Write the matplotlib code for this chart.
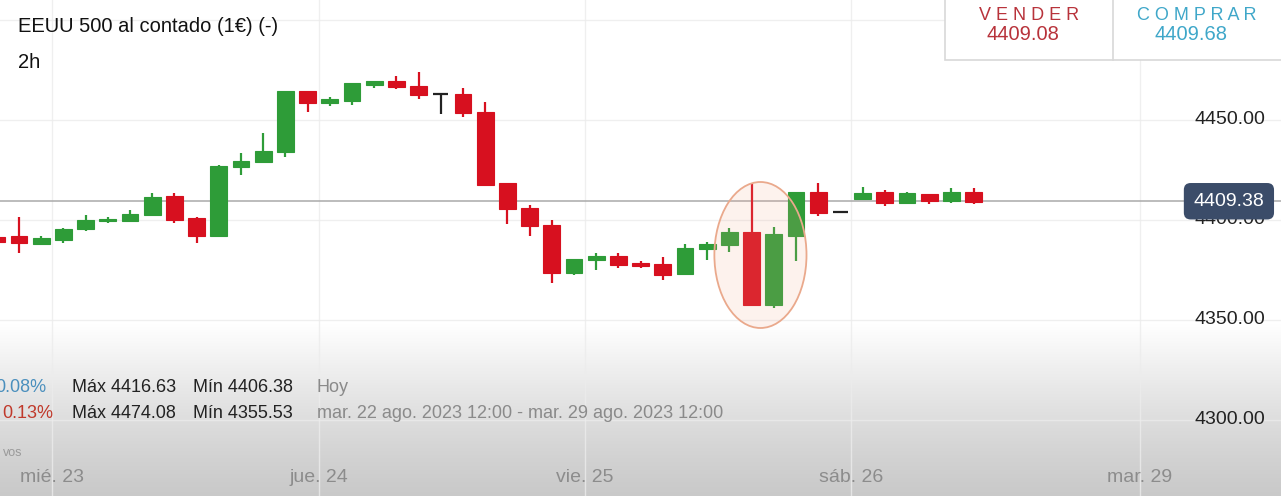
"""
EEUU 500 al contado - gráfico de velas de 2h
"""
import numpy as np
import matplotlib.pyplot as plt
from matplotlib.patches import Ellipse, Rectangle
import matplotlib.transforms as mtransforms

plt.rcParams['font.family'] = ['Liberation Sans', 'DejaVu Sans']

# ========== datos: velas de 2h ==========
opens  = [4391.5, 4392.0, 4388.0, 4390.0, 4395.5, 4399.5, 4399.5, 4402.5, 4412.0, 4401.0,
          4392.0, 4426.5, 4429.0, 4434.0, 4464.5, 4458.5, 4459.5, 4467.5, 4469.5, 4467.0,
          4463.0, 4463.0, 4454.0, 4418.5, 4406.0, 4397.5, 4373.5, 4380.0, 4382.0, 4378.5,
          4378.0, 4373.0, 4385.5, 4387.5, 4394.0, 4357.5, 4392.0, 4414.0, 4404.0, 4410.5,
          4414.0, 4408.5, 4413.0, 4409.5, 4414.0]
highs  = [4392.0, 4401.5, 4392.0, 4396.0, 4402.5, 4401.5, 4405.0, 4413.5, 4413.5, 4401.5,
          4427.5, 4433.5, 4443.5, 4464.5, 4464.5, 4461.5, 4468.5, 4469.5, 4472.0, 4474.0,
          4463.0, 4466.0, 4459.0, 4418.5, 4407.5, 4400.0, 4380.5, 4383.5, 4383.5, 4379.5,
          4381.5, 4388.0, 4389.0, 4396.0, 4418.5, 4396.5, 4414.0, 4418.5, 4404.0, 4416.5,
          4415.0, 4414.0, 4413.0, 4416.0, 4416.0]
lows   = [4388.0, 4383.5, 4387.5, 4388.5, 4394.5, 4398.5, 4399.0, 4402.0, 4398.5, 4388.5,
          4391.5, 4422.5, 4428.5, 4431.5, 4454.0, 4457.0, 4457.5, 4466.0, 4465.5, 4460.5,
          4453.0, 4451.5, 4417.5, 4398.0, 4392.0, 4368.5, 4372.5, 4375.0, 4376.0, 4376.0,
          4370.0, 4373.0, 4380.0, 4384.0, 4357.0, 4356.0, 4379.5, 4402.0, 4404.0, 4410.0,
          4407.0, 4408.5, 4408.0, 4408.5, 4408.0]
closes = [4389.0, 4388.5, 4391.0, 4395.5, 4400.0, 4400.5, 4403.0, 4411.5, 4400.0, 4392.0,
          4427.0, 4429.5, 4434.5, 4464.5, 4458.5, 4460.5, 4468.5, 4469.5, 4466.5, 4462.5,
          4463.0, 4453.5, 4417.5, 4405.5, 4397.0, 4373.5, 4380.5, 4382.0, 4377.5, 4377.0,
          4372.5, 4386.0, 4388.0, 4394.0, 4357.5, 4393.0, 4414.0, 4403.5, 4404.0, 4413.5,
          4408.5, 4413.5, 4409.5, 4414.0, 4409.0]
idx = np.arange(-1, len(opens) - 1)

price_ticks = [4300, 4350, 4400, 4450]
grid_prices = [4300, 4350, 4400, 4450, 4500]
day_pos = [1.5, 13.5, 25.5, 37.5, 50.5]
day_labels = ['mié. 23', 'jue. 24', 'vie. 25', 'sáb. 26', 'mar. 29']
last_price = 4409.38
sell_price = 4409.08
buy_price = 4409.68
row_pct = ['0.08%', '0.13%']
row_max = ['Máx 4416.63', 'Máx 4474.08']
row_min = ['Mín 4406.38', 'Mín 4355.53']
row_period = ['Hoy', 'mar. 22 ago. 2023 12:00 - mar. 29 ago. 2023 12:00']

W, H = 1281, 496
GREEN = '#2e9c38'
RED = '#d7101f'

def fx(x):
    return x / W

def fy(y):
    return 1 - y / H

fig = plt.figure(figsize=(W / 100, H / 100), dpi=100, facecolor='white')
ax = fig.add_axes([0, 0, 1, 1])
ax.set_axis_off()

xmin, xmax = -0.856, 56.85
ymin, ymax = 4262, 4510

# fondo degradado en la parte inferior (blanco arriba -> gris abajo)
cols = np.ones((200, 1, 3))
t = np.linspace(0, 1, 200) ** 1.2
cols[:, 0, :] = (1 - t[:, None]) * np.array([0.79, 0.79, 0.79]) + t[:, None] * 1.0
ax.imshow(cols, extent=[xmin, xmax, ymin, 4348], origin='lower', aspect='auto', zorder=0)

# rejilla
for p in grid_prices:
    ax.axhline(p, color='#ececec', lw=1, alpha=0.8, zorder=1)
for d in day_pos:
    ax.axvline(d, color='#ececec', lw=1, alpha=0.8, zorder=1)

# línea del último precio
ax.axhline(last_price, color='#a9a9a9', lw=1.1, zorder=2)

# velas
bw = 0.76
for i, o, h, l, c in zip(idx, opens, highs, lows, closes):
    if c > o:
        col = GREEN
    elif c < o:
        col = RED
    else:
        col = '#222222'
    ax.vlines(i, l, h, color=col, lw=1.6, zorder=3)
    if c == o:
        ax.hlines(o, i - bw * 0.45, i + bw * 0.45, color=col, lw=1.6, zorder=3)
    else:
        ax.add_patch(Rectangle((i - bw / 2, min(o, c)), bw, abs(c - o),
                               facecolor=col, edgecolor=col, lw=0.8, zorder=4))

# elipse destacada
ax.add_patch(Ellipse((33.4, 4382.5), 4.15, 73, facecolor=(0.96, 0.66, 0.55, 0.15),
                     edgecolor='#eaa98c', lw=1.3, zorder=5))

# etiquetas del eje de precios
for p in price_ticks:
    ax.text(xmax - 16 / 22.2, p, f'{p:.2f}', ha='right', va='center',
            fontsize=14, color='#222222', zorder=6)

ax.text((1229 - 19) / 22.2, last_price, f'{last_price:.2f}', ha='center', va='center',
        fontsize=14, color='white', zorder=8,
        bbox=dict(boxstyle='round,pad=0.5,rounding_size=0.35', facecolor='#3b4c69',
                  edgecolor='none'))

# etiquetas de días
trans = mtransforms.blended_transform_factory(ax.transData, ax.transAxes)
for d, lab in zip(day_pos, day_labels):
    ax.text(d, fy(478), lab, transform=trans, ha='center', va='center',
            fontsize=14, color='#8c8c8c', zorder=6)

ax.set_xlim(xmin, xmax)
ax.set_ylim(ymin, ymax)

# título
fig.text(fx(18), fy(27), 'EEUU 500 al contado (1€) (-)', fontsize=14.5, va='center', color='#111111')
fig.text(fx(18), fy(62), '2h', fontsize=14.5, va='center', color='#111111')

# caja vender / comprar
fig.patches.append(Rectangle((fx(945), fy(60)), fx(W + 5) - fx(945), 80 / H,
                             transform=fig.transFigure, facecolor='white',
                             edgecolor='#d8d8d8', lw=1.2, zorder=10))
fig.lines.append(plt.Line2D([fx(1113), fx(1113)], [fy(60), 1.0], transform=fig.transFigure,
                            color='#d8d8d8', lw=1.2, zorder=11))
fig.text(fx(1029), fy(15), 'V E N D E R', fontsize=13, ha='center', va='center',
         color='#b8333b', zorder=12)
fig.text(fx(1023), fy(35), f'{sell_price:.2f}', fontsize=14.5, ha='center', va='center',
         color='#b8333b', zorder=12)
fig.text(fx(1197), fy(15), 'C O M P R A R', fontsize=13, ha='center', va='center',
         color='#3fa7c9', zorder=12)
fig.text(fx(1191), fy(35), f'{buy_price:.2f}', fontsize=14.5, ha='center', va='center',
         color='#3fa7c9', zorder=12)

# información inferior
pct_colors = ['#4a8fbd', '#c0392b']
pct_right = [46, 53]
for k, yy in enumerate([388, 414]):
    fig.text(fx(pct_right[k]), fy(yy), row_pct[k], fontsize=13, ha='right', va='center',
             color=pct_colors[k])
    fig.text(fx(72), fy(yy), row_max[k], fontsize=13, va='center', color='#222222')
    fig.text(fx(193), fy(yy), row_min[k], fontsize=13, va='center', color='#222222')
    fig.text(fx(317), fy(yy), row_period[k], fontsize=13, va='center', color='#8a8a8a')
fig.text(fx(3), fy(453), 'vos', fontsize=9, va='center', color='#9a9a9a')

plt.savefig('out.png', dpi=100, facecolor='white')
plt.close()
